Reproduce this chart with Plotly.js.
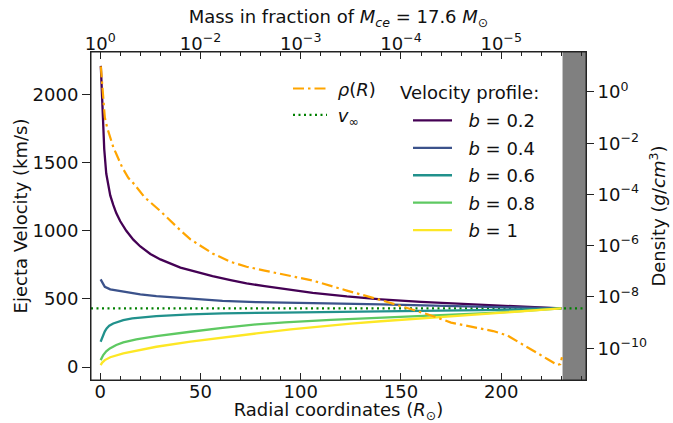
<!DOCTYPE html>
<html>
<head>
<meta charset="utf-8">
<script src="https://cdn.plot.ly/plotly-3.0.1.min.js"></script>
<style>html,body{margin:0;padding:0;background:#fff;}#chart{width:673px;height:423px;}</style>
</head>
<body>
<div id="chart"></div>
<script>
// ---- data ----
const r_b02 = [0.3, 0.6, 1, 1.5, 2, 3, 4, 5, 6.5, 8, 10, 13, 16.5, 20, 25, 30, 40, 50, 56, 65, 73, 82, 90, 106, 123, 140, 160, 175, 190, 210, 230];
const v_b02 = [2210, 2080, 1900, 1720, 1600, 1420, 1330, 1260, 1190, 1130, 1070, 1000, 935, 885, 830, 790, 730, 688, 667, 638, 614, 594, 577, 545, 518, 497, 478, 467, 455, 442, 430];

const r_b04 = [0.2, 0.7, 1.2, 2.3, 5, 11.5, 20, 28, 45, 61, 78, 95, 120, 140, 165, 190, 210, 230];
const v_b04 = [643, 630, 613, 589, 570, 552, 534, 520, 501, 486, 476, 470, 465, 460, 452, 443, 437, 430];

const r_b06 = [0.2, 0.8, 1.5, 2.3, 3.2, 4.5, 6.5, 9, 11.5, 16, 22, 28, 45, 61, 90, 140, 190, 210, 230];
const v_b06 = [186, 210, 235, 262, 284, 303, 320, 335, 345, 357, 367, 374, 386, 394, 400, 407, 418, 423, 430];

const r_b08 = [0.2, 0.8, 1.5, 3, 4.8, 8, 11.5, 18, 28, 45, 61, 78, 92, 115, 140, 165, 190, 210, 230];
const v_b08 = [51, 70, 88, 115, 137, 162, 181, 203, 227, 259, 288, 313, 328, 346, 361, 378, 394, 410, 430];

const r_b1 = [0.2, 1, 2.3, 5, 11.5, 20, 28, 45, 61, 78, 95, 110, 125, 140, 157, 175, 190, 210, 230];
const v_b1 = [15, 33, 51, 72, 100, 127, 149, 186, 218, 247, 276, 298, 318, 336, 354, 371, 386, 407, 430];

const r_rho = [0.3, 0.7, 1, 1.5, 2.3, 3.5, 4.8, 6.5, 8.2, 11, 14, 17, 22, 30, 40, 45, 50, 56, 65, 73, 82, 90, 106, 123, 135, 140, 156, 165, 175, 186, 196, 203, 208, 213, 218, 223, 228, 229.5, 230.3];
const logrho = [1.0, 0.6, 0.2, -0.5, -1.0, -1.4, -1.75, -2.15, -2.45, -2.95, -3.35, -3.6, -4.1, -4.65, -5.4, -5.75, -6.0, -6.3, -6.63, -6.82, -6.97, -7.1, -7.36, -7.75, -8.0, -8.12, -8.5, -8.72, -9.0, -9.16, -9.33, -9.5, -9.72, -9.95, -10.19, -10.42, -10.65, -10.62, -10.35];
const rho = logrho.map(v => Math.pow(10, v));

const vInf = 430;
const rSurface = 230.6;
const xRange = [-4.6, 242.3];
const yRange = [-95, 2312];
const y2Range = [-11.24, 1.56];

const bottomTicks = [0, 50, 100, 150, 200];
const topTickText = ['10<sup>0</sup>', '10<sup>−2</sup>', '10<sup>−3</sup>', '10<sup>−4</sup>', '10<sup>−5</sup>'];
const velTicks = [0, 500, 1000, 1500, 2000];
const densTickVals = [1, 1e-2, 1e-4, 1e-6, 1e-8, 1e-10];
const densTickText = ['10<sup>0</sup>', '10<sup>−2</sup>', '10<sup>−4</sup>', '10<sup>−6</sup>', '10<sup>−8</sup>', '10<sup>−10</sup>'];

const colors = ['#440154', '#3b528b', '#21918c', '#5ec962', '#fde725'];
const bLabels = ['0.2', '0.4', '0.6', '0.8', '1'];
const vr = [r_b02, r_b04, r_b06, r_b08, r_b1];
const vv = [v_b02, v_b04, v_b06, v_b08, v_b1];

const FONT = 'DejaVu Sans, sans-serif';
const FS = 18;
const NB = '\u00a0';

const traces = [];
traces.push({
  x: r_rho, y: rho, xaxis: 'x', yaxis: 'y2', mode: 'lines',
  line: {color: '#ffa500', width: 2.2, dash: '11px,4px,2.5px,4px'},
  name: NB + '<i>ρ</i>(<i>R</i>)', legend: 'legend'
});
traces.push({
  x: xRange, y: [vInf, vInf], xaxis: 'x', yaxis: 'y', mode: 'lines',
  line: {color: '#008000', width: 2.2, dash: '2px,3.5px'},
  name: NB + '<i>v</i><sub>∞</sub>', legend: 'legend'
});
for (let i = 0; i < 5; i++) {
  traces.push({
    x: vr[i], y: vv[i], xaxis: 'x', yaxis: 'y', mode: 'lines',
    line: {color: colors[i], width: 2.3},
    name: NB + NB + '<i>b</i> = ' + bLabels[i], legend: 'legend2', legendgroup: 'g' + i
  });
}
// invisible trace to anchor the top axis
traces.push({x: xRange, y: [0, 0], xaxis: 'x2', yaxis: 'y', mode: 'lines', line: {width: 0}, showlegend: false, hoverinfo: 'skip', opacity: 0});

const base = {
  showline: true, linecolor: '#222', linewidth: 1,
  tickwidth: 1, tickcolor: '#222',
  showgrid: false, zeroline: false,
  tickfont: {family: FONT, size: FS, color: '#111'}
};
const minorX = {dtick: 10, tick0: 0, ticks: 'inside', ticklen: 4, tickcolor: '#222', tickwidth: 1, showgrid: false};

const layout = {
  width: 673, height: 423,
  margin: {l: 91, r: 87, t: 52, b: 43, pad: 0},
  paper_bgcolor: '#fff', plot_bgcolor: '#fff',
  font: {family: FONT, size: FS, color: '#111'},
  xaxis: Object.assign({}, base, {
    range: xRange, tickvals: bottomTicks, ticktext: bottomTicks.map(String),
    ticks: 'inside', ticklen: 7, minor: minorX, ticklabelstandoff: -5,
    title: {text: 'Radial coordinates (<i>R</i><sub>⊙</sub>)', font: {family: FONT, size: FS}, standoff: 11}
  }),
  xaxis2: Object.assign({}, base, {
    overlaying: 'x', side: 'top', anchor: 'y', range: xRange,
    tickvals: bottomTicks, ticktext: topTickText,
    ticks: 'inside', ticklen: 7, minor: minorX, ticklabelstandoff: -6,
    title: {text: 'Mass in fraction of <i>M</i><sub><i>ce</i></sub> = 17.6 <i>M</i><sub>⊙</sub>', font: {family: FONT, size: FS}, standoff: 0}
  }),
  yaxis: Object.assign({}, base, {
    range: yRange, tickvals: velTicks, ticks: 'outside', ticklen: 8,
    title: {text: 'Ejecta Velocity (km/s)', font: {family: FONT, size: FS}, standoff: 0}
  }),
  yaxis2: Object.assign({}, base, {
    overlaying: 'y', side: 'right', anchor: 'x', type: 'log', range: y2Range,
    tickvals: densTickVals, ticktext: densTickText, ticks: 'outside', ticklen: 7,
    title: {text: 'Density (<i>g</i>/<i>cm</i><sup>3</sup>)', font: {family: FONT, size: FS}, standoff: 6}
  }),
  shapes: [
    {type: 'rect', xref: 'x', yref: 'paper', x0: rSurface, x1: xRange[1], y0: 0, y1: 1,
     fillcolor: '#808080', line: {width: 0}, layer: 'below'},
    {type: 'rect', xref: 'paper', yref: 'paper', x0: 0, x1: 1, y0: 0, y1: 1,
     line: {color: '#222', width: 1}, fillcolor: 'rgba(0,0,0,0)', layer: 'above'}
  ],
  annotations: [
    {text: 'Velocity profile:', xref: 'paper', yref: 'paper', x: (398 - 91) / 495, y: (380 - 92) / 328.3,
     xanchor: 'left', yanchor: 'middle', showarrow: false, font: {family: FONT, size: FS, color: '#111'}}
  ],
  legend: {
    x: (288 - 91) / 495, y: (380 - 70) / 328.3, xanchor: 'left', yanchor: 'top',
    bgcolor: 'rgba(255,255,255,0)', borderwidth: 0,
    font: {family: FONT, size: FS}, itemwidth: 34
  },
  legend2: {
    x: (408 - 91) / 495, y: (380 - 102) / 328.3, xanchor: 'left', yanchor: 'top',
    bgcolor: 'rgba(255,255,255,0)', borderwidth: 0,
    font: {family: FONT, size: FS}, itemwidth: 39, tracegroupgap: 1
  },
  showlegend: true
};

Plotly.newPlot('chart', traces, layout, {staticPlot: true, displayModeBar: false});
</script>
</body>
</html>
